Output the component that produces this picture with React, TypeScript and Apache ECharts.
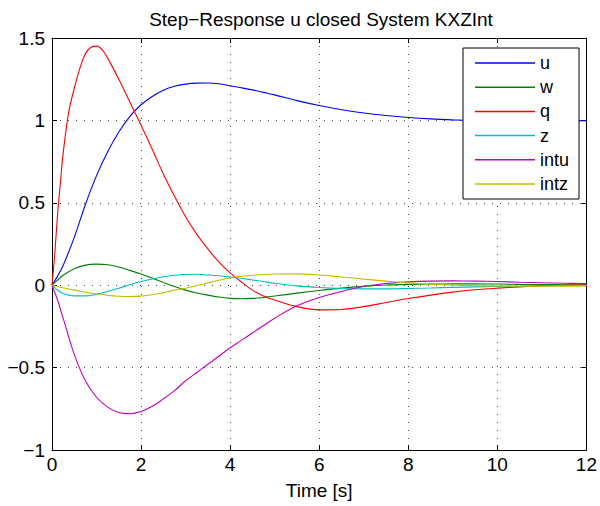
import React, { useEffect, useRef } from "react";
import * as echarts from "echarts";

const times = [0, 0.125, 0.25, 0.5, 0.75, 1, 1.25, 1.5, 1.75, 2, 2.25, 2.5, 2.75, 3, 3.25, 3.5, 3.75, 4, 4.25, 4.5, 4.75, 5, 5.5, 6, 6.5, 7, 7.5, 8, 8.5, 9, 9.5, 10, 10.5, 11, 11.5, 12];
const qTimes = [0, 0.0625, 0.125, 0.1875, 0.25, 0.375, 0.5, 0.625, 0.75, 0.875, 1, 1.125, 1.25, 1.5, 1.75, 2, 2.25, 2.5, 2.75, 3, 3.25, 3.5, 3.75, 4, 4.25, 4.5, 4.75, 5, 5.5, 6, 6.5, 7, 7.5, 8, 8.5, 9, 9.5, 10, 10.5, 11, 11.5, 12];

const uVals = [0, 0.055, 0.12, 0.29, 0.49, 0.665, 0.81, 0.93, 1.025, 1.095, 1.145, 1.183, 1.207, 1.22, 1.226, 1.227, 1.222, 1.21, 1.198, 1.185, 1.17, 1.155, 1.12, 1.09, 1.065, 1.045, 1.03, 1.018, 1.009, 1.003, 0.999, 0.997, 0.996, 0.996, 0.997, 0.998];
const wVals = [0, 0.03, 0.06, 0.1, 0.122, 0.128, 0.124, 0.11, 0.09, 0.068, 0.043, 0.017, -0.008, -0.03, -0.047, -0.06, -0.072, -0.08, -0.082, -0.08, -0.074, -0.066, -0.048, -0.032, -0.018, -0.007, 0.001, 0.005, 0.007, 0.008, 0.008, 0.007, 0.005, 0.004, 0.003, 0.002];
const qVals = [0, 0.19, 0.43, 0.62, 0.8, 1.05, 1.195, 1.316, 1.405, 1.444, 1.451, 1.43, 1.378, 1.25, 1.11, 0.97, 0.825, 0.675, 0.54, 0.415, 0.31, 0.22, 0.14, 0.075, 0.02, -0.03, -0.065, -0.09, -0.13, -0.15, -0.147, -0.13, -0.105, -0.081, -0.06, -0.042, -0.028, -0.018, -0.01, -0.004, 0, 0.002];
const zVals = [0, -0.03, -0.05, -0.065, -0.065, -0.055, -0.038, -0.018, 0.003, 0.022, 0.038, 0.051, 0.06, 0.065, 0.066, 0.062, 0.057, 0.05, 0.042, 0.032, 0.022, 0.012, -0.004, -0.014, -0.02, -0.022, -0.022, -0.02, -0.017, -0.013, -0.01, -0.007, -0.005, -0.003, -0.002, -0.001];
const intuVals = [0, -0.09, -0.2, -0.42, -0.58, -0.68, -0.74, -0.773, -0.78, -0.767, -0.735, -0.69, -0.64, -0.58, -0.53, -0.48, -0.43, -0.38, -0.335, -0.29, -0.245, -0.2, -0.125, -0.075, -0.038, -0.008, 0.01, 0.02, 0.025, 0.026, 0.025, 0.022, 0.018, 0.015, 0.012, 0.01];
const intzVals = [0, -0.008, -0.016, -0.03, -0.042, -0.053, -0.062, -0.067, -0.069, -0.066, -0.058, -0.045, -0.03, -0.018, -0.002, 0.014, 0.03, 0.045, 0.054, 0.06, 0.065, 0.068, 0.069, 0.062, 0.05, 0.037, 0.025, 0.014, 0.006, 0.001, -0.003, -0.005, -0.006, -0.006, -0.006, -0.005];

const seriesNames = ["u", "w", "q", "z", "intu", "intz"];
const seriesColors = ["#0000ff", "#008000", "#ff0000", "#00bfbf", "#bf00bf", "#bfbf00"];
const seriesValues = [uVals, wVals, qVals, zVals, intuVals, intzVals];
const seriesTimes = [times, times, qTimes, times, times, times];

const titleText = "Step\u2212Response u closed System KXZInt";
const xName = "Time [s]";

const FONT = "Liberation Sans, Arial, Helvetica, sans-serif";

export default function App() {
  const ref = useRef<HTMLDivElement>(null);
  useEffect(() => {
    if (!ref.current) return;
    const chart = echarts.init(ref.current, undefined, { renderer: "svg" });
    const fmt = (v: number) => String(v).replace("-", "\u2212");
    const gridLine = { show: true, lineStyle: { color: "#444", type: [1, 7] as any, width: 1 } };
    const boxLine = { show: true, onZero: false, lineStyle: { color: "#000", width: 1 } };
    const tick = { show: true, inside: true, length: 5, lineStyle: { color: "#000" } };
    chart.setOption({
      animation: false,
      backgroundColor: "#ffffff",
      title: {
        text: titleText,
        left: 316,
        textAlign: "center",
        top: 5,
        textStyle: { fontFamily: FONT, fontSize: 19, fontWeight: "normal", color: "#000" },
      },
      legend: {
        data: seriesNames,
        orient: "vertical",
        left: 463,
        top: 48,
        padding: [6, 10, 6, 12],
        icon: "rect",
        itemWidth: 60,
        itemHeight: 1.5,
        itemGap: 6.2,
        backgroundColor: "#fff",
        borderColor: "#000",
        borderWidth: 1,
        borderRadius: 0,
        textStyle: { fontFamily: FONT, fontSize: 18, lineHeight: 18, color: "#000" },
      },
      grid: { left: 52, right: 13, top: 38, bottom: 56, containLabel: false },
      xAxis: [
        {
          type: "value",
          min: 0,
          max: 12,
          interval: 2,
          name: xName,
          nameLocation: "middle",
          nameGap: 31,
          nameTextStyle: { fontFamily: FONT, fontSize: 19, color: "#000" },
          axisLine: boxLine,
          axisTick: tick,
          axisLabel: { fontFamily: FONT, fontSize: 19, color: "#000", margin: 5, formatter: fmt },
          splitLine: gridLine,
        },
        {
          type: "value",
          position: "top",
          min: 0,
          max: 12,
          interval: 2,
          axisLine: boxLine,
          axisTick: tick,
          axisLabel: { show: false },
          splitLine: { show: false },
        },
      ],
      yAxis: [
        {
          type: "value",
          min: -1,
          max: 1.5,
          interval: 0.5,
          axisLine: boxLine,
          axisTick: tick,
          axisLabel: { fontFamily: FONT, fontSize: 19, color: "#000", margin: 7, formatter: fmt },
          splitLine: gridLine,
        },
        {
          type: "value",
          position: "right",
          min: -1,
          max: 1.5,
          interval: 0.5,
          axisLine: boxLine,
          axisTick: tick,
          axisLabel: { show: false },
          splitLine: { show: false },
        },
      ],
      series: seriesNames.map((name, i) => ({
        name,
        type: "line",
        xAxisIndex: 0,
        yAxisIndex: 0,
        data: seriesTimes[i].map((t, k) => [t, seriesValues[i][k]]),
        smooth: 0.35,
        showSymbol: false,
        symbol: "none",
        color: seriesColors[i],
        lineStyle: { color: seriesColors[i], width: 1.1 },
      })),
    });
    return () => chart.dispose();
  }, []);
  return (
    <div
      ref={ref}
      style={{ position: "fixed", left: 0, top: 0, width: 600, height: 506, overflow: "visible" }}
    />
  );
}
